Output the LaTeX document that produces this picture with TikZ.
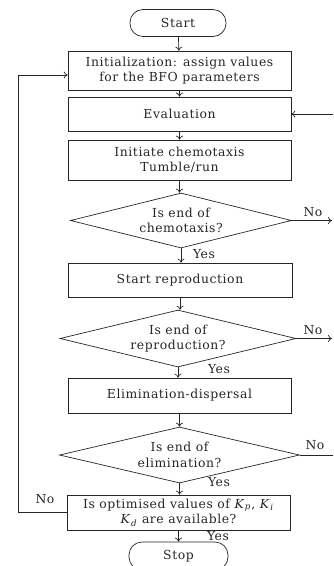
\documentclass[tikz,border=0pt]{standalone}
\usepackage{fontspec}
\setmainfont[LetterSpace=4.5]{DejaVu Serif}
\usetikzlibrary{shapes.geometric,arrows.meta}
\newcommand{\Ksub}[1]{\textit{K}\textsubscript{\textit{#1}}}
\begin{document}
\begin{tikzpicture}[x=1pt,y=-1pt, font=\fontsize{12.4}{15.5}\selectfont,
  line width=0.7pt, color=black!85,
  box/.style={draw, minimum width=223pt, align=center, inner sep=0pt},
  term/.style={draw, rounded corners=13pt, minimum width=96pt, minimum height=27pt, inner sep=0pt},
  dec/.style={draw, diamond, aspect=4, inner sep=0pt, align=center},
  arr/.style={-{To[length=4pt,width=7pt]}},
  lbl/.style={inner sep=1pt, font=\fontsize{12.4}{14}\selectfont}]
\useasboundingbox (0,0) rectangle (333,566);
\node[term] (start) at (178,23) {Start};
\node[box, minimum height=39pt] (init) at (179.5,70.5) {Initialization: assign values\\for the BFO parameters};
\node[box, minimum height=34pt] (eval) at (179.5,114) {Evaluation};
\node[box, minimum height=40pt] (chemo) at (179.5,160) {Initiate chemotaxis\\Tumble/run};
\node[dec, minimum width=221pt, minimum height=55pt] (d1) at (181,220.5) {Is end of\\chemotaxis?};
\node[box, minimum width=224pt, minimum height=34pt] (repro) at (180,280) {Start reproduction};
\node[dec, minimum width=236pt, minimum height=57pt] (d2) at (178,338.5) {Is end of\\reproduction?};
\node[box, minimum height=35pt] (elim) at (179.5,395.5) {Elimination-dispersal};
\node[dec, minimum width=240pt, minimum height=56pt] (d3) at (179.5,455) {Is end of\\elimination?};
\node[box, minimum height=35pt] (opt) at (178.5,512.5) {Is optimised values of \Ksub{p}, \Ksub{i}\\\Ksub{d} are available?};
\node[term, minimum width=99pt, minimum height=28pt] (stop) at (178.5,556) {Stop};
% vertical flow
\draw[arr] (start) -- (init);
\draw[arr] (init) -- (eval);
\draw[arr] (eval) -- (chemo);
\draw[arr] (chemo.south) -- (chemo.south |- d1.north);
\draw[arr] (d1.south) -- (d1.south |- repro.north);
\draw[arr] (repro.south) -- (repro.south |- d2.north);
\draw[arr] (d2.south) -- (d2.south |- elim.north);
\draw[arr] (elim.south) -- (elim.south |- d3.north);
\draw[arr] (d3.south) -- (d3.south |- opt.north);
\draw[arr] (opt.south) -- (opt.south |- stop.north);
% right side
\coordinate (r1) at (332,220.5);
\coordinate (r2) at (332,338.5);
\coordinate (r3) at (333,455);
\coordinate (re) at (333,114);
\draw[arr] (d1.east) -- (r1);
\draw[arr] (d2.east) -- (r2);
\draw (d3.east) -- (r3);
\draw[arr] (re) -- (eval.east);
% left loop
\coordinate (lc) at (18.5,512.5);
\draw[arr] (opt.west) -- (lc) |- ([yshift=-4.5pt]init.west);
% labels
\node[lbl] (n1) at (313,212) {No};
\node[lbl] (n2) at (313,330) {No};
\node[lbl] (n3) at (315,445) {No};
\node[lbl] (n4) at (45,499) {No};
\node[lbl] (y1) at (204,254) {Yes};
\node[lbl] (y2) at (219,369) {Yes};
\node[lbl] (y3) at (219,482) {Yes};
\node[lbl] (y4) at (218,536) {Yes};
\end{tikzpicture}
\end{document}
